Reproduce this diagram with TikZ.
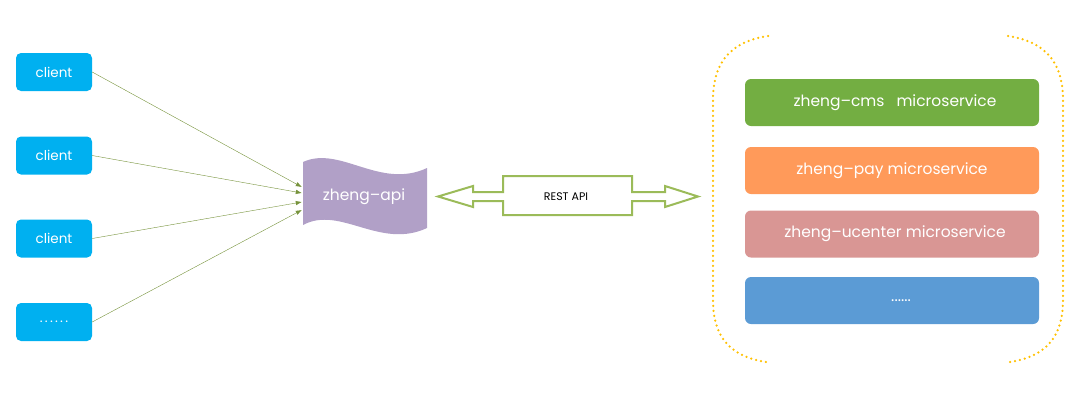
\documentclass[tikz,border=0pt]{standalone}
\usepackage{fontspec}
\setmainfont{Poppins}
\usetikzlibrary{arrows.meta}
\definecolor{clientblue}{HTML}{00B0F0}
\definecolor{linkgreen}{HTML}{77933C}
\definecolor{apipurple}{HTML}{B1A0C7}
\definecolor{restgreen}{HTML}{9BBB59}
\definecolor{dotgold}{HTML}{FFC000}
\definecolor{cmsgreen}{HTML}{73AE42}
\definecolor{payorange}{HTML}{FF9A5A}
\definecolor{ucpink}{HTML}{D99694}
\definecolor{moreblue}{HTML}{5B9BD5}
\begin{document}
\begin{tikzpicture}[x=1pt,y=-1pt,
    client/.style={fill=clientblue, rounded corners=5pt, minimum width=76pt, minimum height=38pt,
        text=white, font=\fontsize{13.5}{15}\selectfont},
    service/.style={rounded corners=6pt, minimum width=294pt, minimum height=47pt,
        text=white, font=\fontsize{15.5}{17}\selectfont},
    link/.style={draw=linkgreen, -{Latex[length=6pt,width=4.5pt]}},
    bracket/.style={draw=dotgold, line width=2.5pt, line cap=round, dash pattern=on 0pt off 5pt}]
    \useasboundingbox (0,0) rectangle (1087,416);
    \node[client] (c1) at (54,72) {client};
    \node[client] (c2) at (54,155.5) {client};
    \node[client] (c3) at (54,238.5) {client};
    \node[client] (c4) at (54,322) {.\,.\,.\,.\,.\,.};
    \fill[apipurple] (303,162) .. controls (340,145) and (380,190) .. (427,168) -- (427,228)
        .. controls (380,250) and (340,205) .. (303,225) -- cycle;
    \node[text=white, font=\fontsize{15.5}{17}\selectfont, minimum width=124pt, minimum height=60pt] (api) at (364,197) {zheng–api};
    \draw[link] (c1.east) -- ([yshift=10pt]api.west);
    \draw[link] (c2.east) -- ([yshift=4pt]api.west);
    \draw[link] (c3.east) -- ([yshift=-5pt]api.west);
    \draw[link] (c4.east) -- ([yshift=-13pt]api.west);
    \draw[restgreen, line width=2pt, fill=white] (438,196.5) -- (473,186) -- (473,192) -- (503,192) -- (503,176)
        -- (632,176) -- (632,192) -- (665,192) -- (665,186) -- (698,196.5) -- (665,207) -- (665,201)
        -- (632,201) -- (632,215) -- (503,215) -- (503,201) -- (473,201) -- (473,207) -- cycle;
    \node[font=\fontsize{11}{13}\selectfont] (rest) at (566,196.5) {REST API};
    \draw[bracket] (768,36) .. controls (728,42) and (713,65) .. (713,100) -- (713,300)
        .. controls (713,335) and (728,356) .. (766,362);
    \draw[bracket] (1008,36) .. controls (1048,42) and (1063,65) .. (1063,100) -- (1063,300)
        .. controls (1063,335) and (1048,356) .. (1010,362);
    \node[service, fill=cmsgreen] (cms) at (892,102.5) {\hspace{6pt}zheng–cms\hspace{12pt}microservice};
    \node[service, fill=payorange] (pay) at (892,170.5) {zheng–pay microservice};
    \node[service, fill=ucpink] (ucenter) at (892,234) {\hspace{6pt}zheng–ucenter microservice};
    \node[service, fill=moreblue] (more) at (892,300.5) {\hspace{18pt}......};
\end{tikzpicture}
\end{document}
